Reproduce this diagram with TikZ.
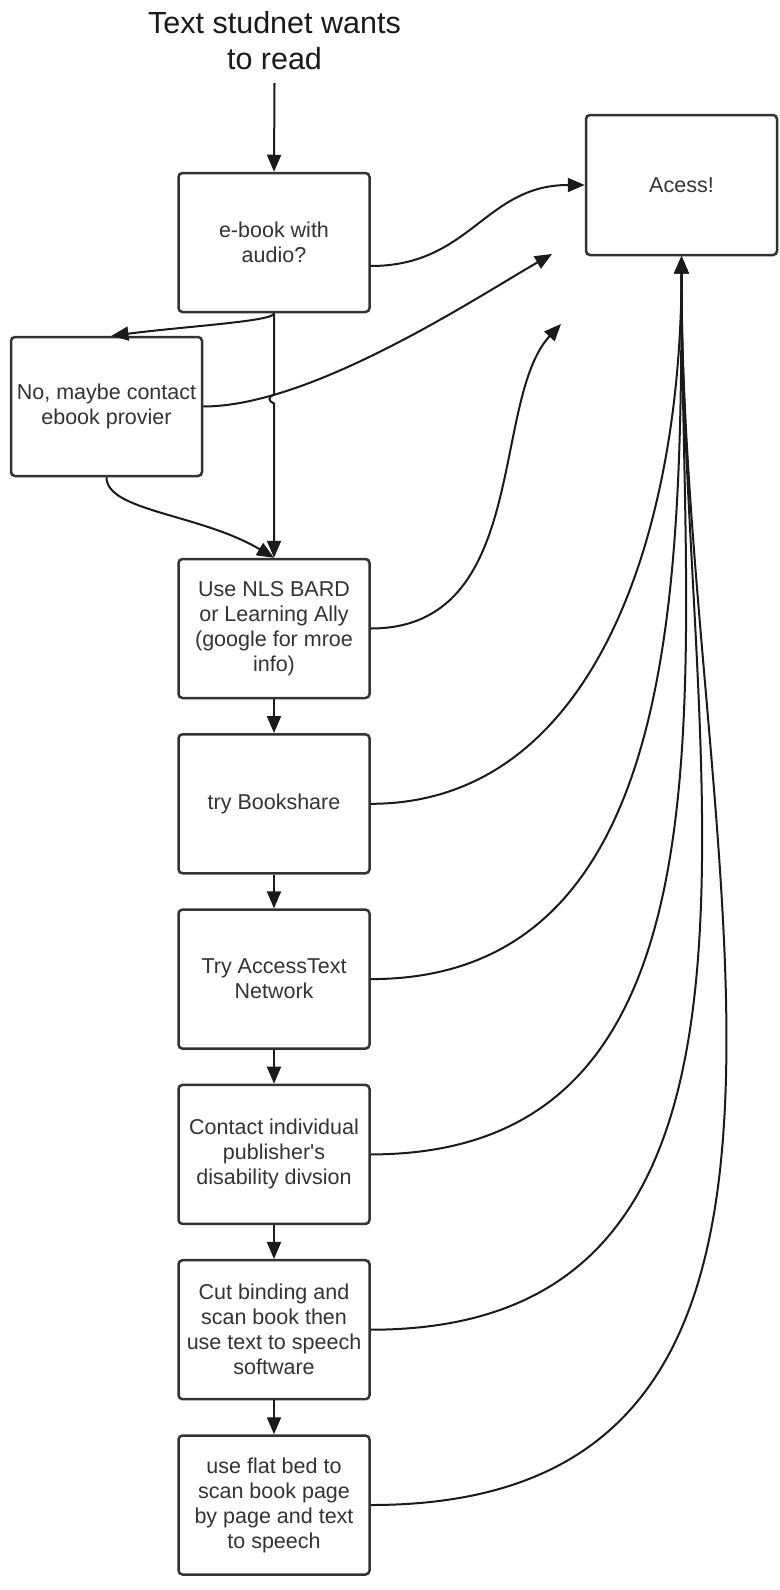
\documentclass[tikz,border=0pt]{standalone}
\usepackage{fontspec}
\setmainfont{Liberation Sans}
\usetikzlibrary{arrows.meta,calc}
\definecolor{ink}{HTML}{333333}
\definecolor{wire}{HTML}{1A1A1A}
\begin{document}
\begin{tikzpicture}[x=1pt,y=-1pt,
  box/.style={draw=ink, line width=2.5pt, rounded corners=4pt, fill=white,
    minimum width=191pt, minimum height=139pt, align=center, text=ink,
    font=\fontsize{21.5}{25}\selectfont, inner sep=2pt},
  conn/.style={draw=wire, line width=2pt, -{Triangle[length=17pt,width=14pt]}}]
\useasboundingbox (0,0) rectangle (779,1590);
\fill[white] (0,0) rectangle (779,1590);

\node[font=\fontsize{30.5}{36.5}\selectfont, align=center, text=wire,
      inner xsep=0pt, inner ysep=13pt] (title) at (274.5,40.5) {Text studnet wants\\to read};

\node[box] (ebook) at (274,242.5) {e-book with\\audio?};
\node[box, minimum height=140pt] (acess) at (681.5,185) {Acess!};
\node[box] (no) at (106.5,406.5) {No, maybe contact\\ebook provier};
\node[box] (nls) at (274,628.5) {Use NLS BARD\\or Learning Ally\\(google for mroe\\info)};
\node[box] (bs) at (274,803.8) {try Bookshare};
\node[box] (atn) at (274,979.1) {Try AccessText\\Network};
\node[box] (pub) at (274,1154.4) {Contact individual\\publisher\textquotesingle s\\disability divsion};
\node[box] (cut) at (274,1329.7) {Cut binding and\\scan book then\\use text to speech\\software};
\node[box] (flat) at (274,1505) {use flat bed to\\scan book page\\by page and text\\to speech};

\coordinate (f1) at (552,254);
\coordinate (f2) at (561,324);
\coordinate (j1) at (274,394.5);
\coordinate (j2) at (274,403.5);

\draw[conn] (title.south) -- (ebook.north);
\draw[conn] ([yshift=-23.5pt]ebook.east) .. controls +(100,0) and +(-100,0) .. (acess.west);
\draw[conn] (ebook.south) .. controls +(0,8) and +(80,-10) .. ([xshift=5pt]no.north);
\draw[conn] (ebook.south) -- (j1) .. controls +(-6,2) and +(-6,-2) .. (j2) -- (nls.north);
\draw[conn] (no.east) .. controls +(108,0) and +(-78,45) .. (f1);
\draw[conn] (no.south) .. controls +(0,34) and +(-74,-44) .. (nls.north);
\draw[conn] (nls.east) .. controls +(160,0) and +(-71,76) .. (f2);

\draw[conn] (nls.south) -- (bs.north);
\draw[conn] (bs.south) -- (atn.north);
\draw[conn] (atn.south) -- (pub.north);
\draw[conn] (pub.south) -- (cut.north);
\draw[conn] (cut.south) -- (flat.north);

\draw[conn] (bs.east) .. controls +(230,0) and +(0,263) .. (acess.south);
\draw[conn] (atn.east) .. controls +(304,0) and +(0,348) .. (acess.south);
\draw[conn] (pub.east) .. controls +(378,0) and +(0,432) .. (acess.south);
\draw[conn] (cut.east) .. controls +(451,0) and +(0,516) .. (acess.south);
\draw[conn] (flat.east) .. controls +(530,0) and +(0,600) .. (acess.south);
\end{tikzpicture}
\end{document}
